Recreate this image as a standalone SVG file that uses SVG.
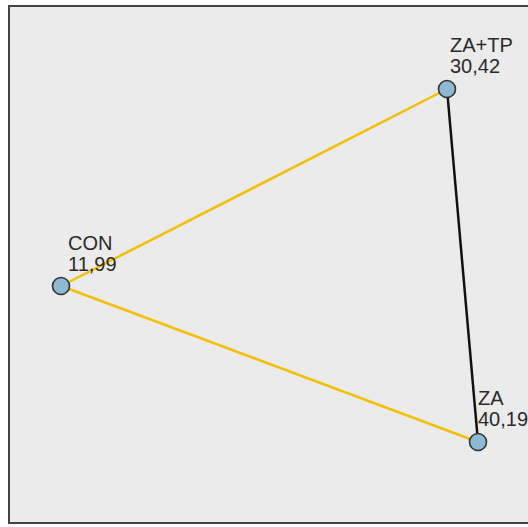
<svg xmlns="http://www.w3.org/2000/svg" width="528" height="527" viewBox="0 0 528 527">
<style>
.lbl{font-family:"Liberation Sans",Arial,sans-serif;font-size:20px;fill:#2a2a2a}
.node{fill:#8db9d3;stroke:#333;stroke-width:1.6}
.y{stroke:#f2c000;stroke-width:2.5;fill:none}
.k{stroke:#111;stroke-width:2.5;fill:none}
</style>
<rect x="0" y="0" width="528" height="527" fill="#fff"/>
<rect x="9" y="6" width="530" height="517" fill="#ebebeb" stroke="#444" stroke-width="2"/>
<g id="connectors">
<line class="y" x1="61" y1="286" x2="447" y2="89"/>
<line class="y" x1="61" y1="286" x2="478" y2="442"/>
<line class="k" x1="447" y1="89" x2="478" y2="442"/>
</g>
<g id="CON">
<circle class="node" cx="61" cy="286" r="8.5"/>
<text class="lbl" x="68" y="250">CON</text>
<text class="lbl" x="68" y="271">11,99</text>
</g>
<g id="ZA_TP">
<circle class="node" cx="447" cy="89" r="8.5"/>
<text class="lbl" x="450" y="52">ZA+TP</text>
<text class="lbl" x="450" y="73">30,42</text>
</g>
<g id="ZA">
<circle class="node" cx="478" cy="442" r="8.5"/>
<text class="lbl" x="478" y="405">ZA</text>
<text class="lbl" x="478" y="426">40,19</text>
</g>
</svg>
